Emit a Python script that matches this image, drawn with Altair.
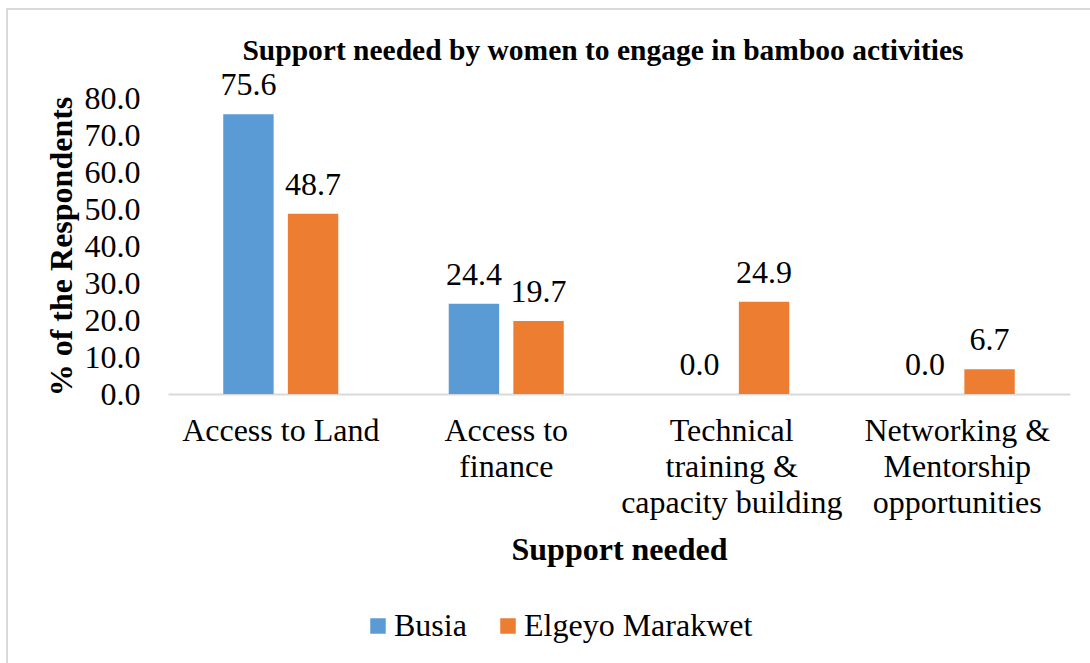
import altair as alt
import pandas as pd

title_text = "Support needed by women to engage in bamboo activities"
categories = ["Access to Land", "Access to\nfinance", "Technical\ntraining &\ncapacity building", "Networking &\nMentorship\nopportunities"]
series = ["Busia", "Elgeyo Marakwet"]
busia = [75.6, 24.4, 0.0, 0.0]
elgeyo = [48.7, 19.7, 24.9, 6.7]
colors = ["#5B9BD5", "#ED7D31"]
y_ticks = [0, 10, 20, 30, 40, 50, 60, 70, 80]

rows = []
for i, c in enumerate(categories):
    rows.append({"cat": c, "region": series[0], "val": busia[i]})
    rows.append({"cat": c, "region": series[1], "val": elgeyo[i]})
df = pd.DataFrame(rows)

FONT = "Liberation Serif"
FS = 32
PLOT_LEFT, PLOT_TOP = 168, 98
W, H = 902, 296

x_enc = alt.X("cat:N", sort=categories,
              scale=alt.Scale(paddingInner=0.49, paddingOuter=0.245),
              axis=alt.Axis(title="Support needed", labelAngle=0,
                            labelExpr="split(datum.label, '\\n')",
                            labelFont=FONT, labelFontSize=FS, labelColor="#000000",
                            labelLineHeight=36, labelBaseline="top", labelPadding=21,
                            ticks=False, domainColor="#D9D9D9", domainWidth=2,
                            titleFont=FONT, titleFontSize=FS, titleFontWeight="bold",
                            titleColor="#000000", titlePadding=16, labelLimit=400,
                            labelOverlap=False))
y_enc = alt.Y("val:Q", scale=alt.Scale(domain=[0, 80]),
              axis=alt.Axis(title="% of the Respondents", values=y_ticks, format=".1f",
                            grid=False, ticks=False, domain=False,
                            labelFont=FONT, labelFontSize=FS, labelColor="#000000",
                            labelPadding=28, labelOverlap=False, labelSeparation=0,
                            labelFlush=False, labelBound=False,
                            titleFont=FONT, titleFontSize=FS, titleFontWeight="bold",
                            titleColor="#000000", titlePadding=6))
xoff = alt.XOffset("region:N", sort=series,
                   scale=alt.Scale(paddingInner=0.22, paddingOuter=0))

base = alt.Chart(df)
bars = base.mark_bar().encode(
    x=x_enc, y=y_enc, xOffset=xoff,
    color=alt.Color("region:N", sort=series,
                    scale=alt.Scale(domain=series, range=colors),
                    legend=alt.Legend(title=None, orient="none", direction="horizontal",
                                      legendX=194, legendY=512,
                                      symbolType="square", symbolSize=240,
                                      symbolStrokeWidth=0,
                                      labelFont=FONT, labelFontSize=FS,
                                      labelColor="#000000", labelOffset=0,
                                      columnPadding=25, labelLimit=400)))
labels = base.mark_text(font=FONT, fontSize=FS, color="#000000",
                        baseline="alphabetic", dy=-19).encode(
    x=x_enc, y=y_enc, xOffset=xoff,
    text=alt.Text("val:Q", format=".1f"))

deco = alt.Chart(pd.DataFrame({"t": [title_text]}))
frame = deco.mark_rect(
    fill="transparent", stroke="#D9D9D9", strokeWidth=2).encode(
    x=alt.value(7 - PLOT_LEFT), x2=alt.value(1100 - PLOT_LEFT),
    y=alt.value(9 - PLOT_TOP), y2=alt.value(700 - PLOT_TOP))
title = deco.mark_text(font=FONT, fontSize=29.5, fontWeight="bold", color="#000000",
                       baseline="alphabetic", align="center").encode(
    x=alt.value(603 - PLOT_LEFT), y=alt.value(60 - PLOT_TOP), text="t:N")

chart = alt.layer(bars, labels, frame, title).properties(
    width=W, height=H,
    autosize=alt.AutoSizeParams(type="none"),
    padding={"left": PLOT_LEFT, "top": PLOT_TOP,
             "right": 1090 - PLOT_LEFT - W, "bottom": 663 - PLOT_TOP - H},
).configure(background="#FFFFFF", view=alt.ViewConfig(stroke=None))

chart.save("out.html", embed_options={"renderer": "svg", "actions": False})
